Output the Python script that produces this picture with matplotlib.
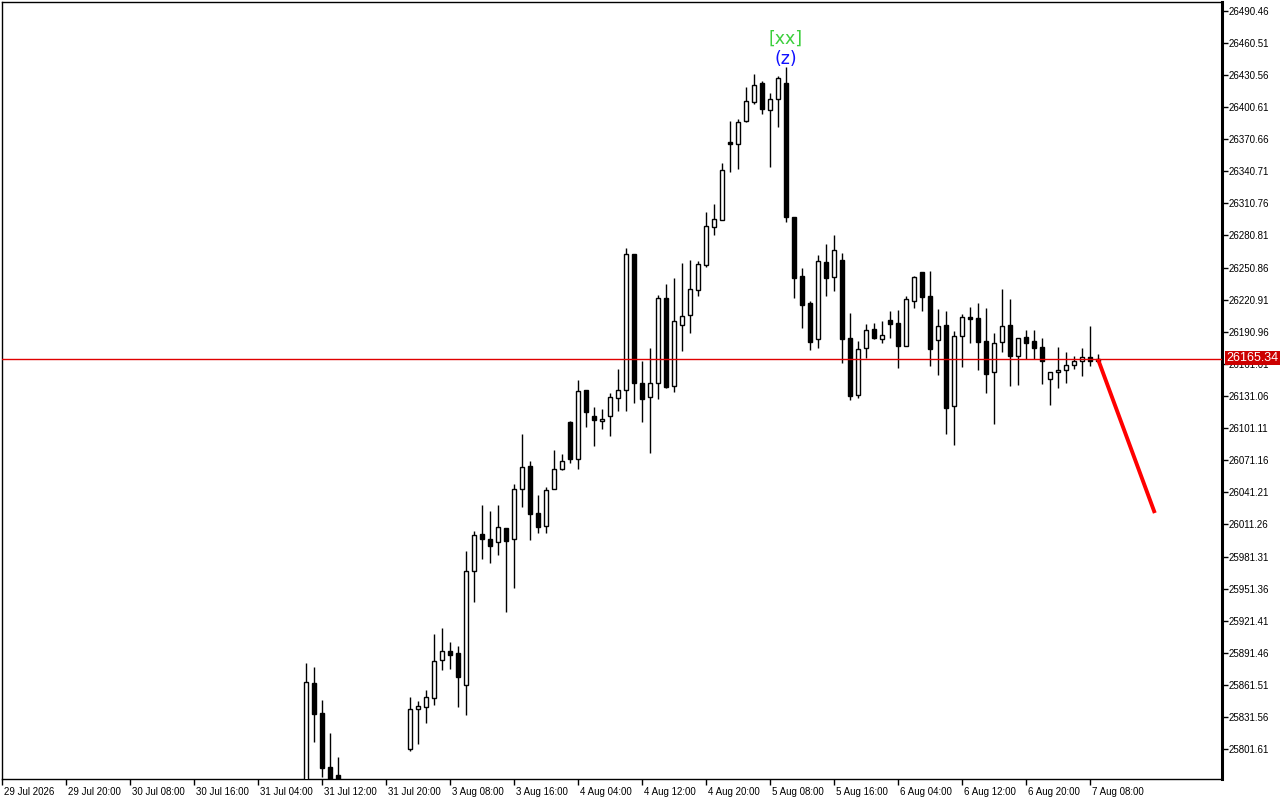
import numpy as np
import matplotlib.pyplot as plt
import matplotlib.transforms as mtrans
from matplotlib.patches import Rectangle

# ---------------------------
# H1 candles, bar index = hours since the left edge of the chart
# bars 43-50 sit below the visible price range and are left out
# ---------------------------
first_bar = 38
opens = [25760.0, 25863.4, 25835.1, 25785.0, 25777.6,
         np.nan, np.nan, np.nan, np.nan, np.nan, np.nan, np.nan, np.nan,
         25801.5, 25838.9, 25841.3, 25849.6, 25884.5, 25893.0, 25891.1, 25861.2,
         25967.6, 26002.3, 25997.4, 25994.6, 26007.6, 25997.4, 26044.0, 26065.5,
         26021.7, 26010.1, 26044.6, 26062.7, 26106.8, 26072.6, 26136.7, 26112.4,
         26107.5, 26112.1, 26128.9, 26136.4, 26263.5, 26142.9, 26129.8, 26142.9,
         26222.2, 26140.1, 26197.0, 26206.3, 26229.7, 26253.5, 26288.4, 26295.5,
         26366.8, 26365.8, 26387.3, 26405.0, 26423.0, 26397.5, 26408.4, 26423.0,
         26298.0, 26243.0, 26217.8, 26184.0, 26255.8, 26242.4, 26257.9, 26184.9,
         26132.0, 26175.6, 26193.3, 26184.5, 26201.7, 26199.2, 26178.0, 26220.0,
         26246.4, 26224.1, 26183.0, 26197.0, 26121.5, 26187.3, 26204.8, 26203.8,
         26182.4, 26153.2, 26181.1, 26197.0, 26168.7, 26185.8, 26182.1, 26176.5,
         26146.6, 26153.2, 26155.3, 26159.7, 26163.7, 26167.2, 26164.0]
highs = [25881.7, 25878.6, 25847.5, 25817.0, 25794.3,
         np.nan, np.nan, np.nan, np.nan, np.nan, np.nan, np.nan, np.nan,
         25850.6, 25846.6, 25856.8, 25909.1, 25915.0, 25901.6, 25897.9, 25986.5,
         26005.2, 26029.4, 26023.8, 26029.4, 26007.6, 26048.7, 26095.6, 26070.4,
         26038.7, 26045.9, 26080.7, 26077.0, 26107.7, 26145.9, 26137.0, 26120.8,
         26118.9, 26133.9, 26156.3, 26269.1, 26263.5, 26163.7, 26175.8, 26225.0,
         26235.5, 26240.8, 26254.8, 26257.9, 26257.3, 26302.7, 26310.1, 26348.1,
         26387.6, 26389.4, 26419.6, 26431.4, 26425.2, 26413.4, 26429.8, 26437.7,
         26298.5, 26250.2, 26220.0, 26262.6, 26272.8, 26281.2, 26264.2, 26208.2,
         26182.4, 26198.2, 26199.2, 26201.0, 26210.4, 26211.3, 26224.3, 26243.3,
         26246.4, 26247.7, 26211.9, 26210.4, 26192.0, 26207.6, 26214.1, 26217.8,
         26213.2, 26189.8, 26230.9, 26221.5, 26185.4, 26192.6, 26192.3, 26184.9,
         26153.5, 26176.5, 26171.8, 26168.1, 26175.6, 26196.4, 26170.0]
lows = [25750.0, 25808.6, 25776.0, 25760.0, 25760.0,
        np.nan, np.nan, np.nan, np.nan, np.nan, np.nan, np.nan, np.nan,
        25800.0, 25806.8, 25826.3, 25843.1, 25875.8, 25876.1, 25841.3, 25833.8,
        25939.2, 25979.0, 25975.6, 25983.0, 25929.9, 25952.2, 26027.8, 25996.7,
        26003.6, 26003.6, 26044.0, 26062.0, 26068.3, 26063.3, 26102.4, 26084.7,
        26100.6, 26094.0, 26117.4, 26117.4, 26124.8, 26107.1, 26078.2, 26128.6,
        26138.8, 26135.1, 26173.3, 26190.1, 26224.6, 26251.7, 26281.0, 26295.0,
        26340.3, 26343.1, 26387.0, 26403.1, 26393.8, 26344.4, 26382.3, 26293.6,
        26222.8, 26194.5, 26174.0, 26175.8, 26224.3, 26229.3, 26162.1, 26127.3,
        26129.5, 26166.2, 26184.5, 26180.5, 26185.2, 26157.2, 26178.0, 26212.9,
        26210.4, 26159.0, 26150.6, 26095.9, 26085.6, 26158.4, 26180.8, 26155.3,
        26134.1, 26105.2, 26172.1, 26140.7, 26141.3, 26165.6, 26165.6, 26142.6,
        26123.0, 26138.8, 26143.5, 26156.5, 26150.0, 26159.3, 26163.0]
closes = [25864.0, 25834.7, 25784.4, 25770.0, 25768.0,
          np.nan, np.nan, np.nan, np.nan, np.nan, np.nan, np.nan, np.nan,
          25839.1, 25841.6, 25850.0, 25883.6, 25893.0, 25889.8, 25869.2, 25967.8,
          26001.4, 25997.9, 25991.4, 26008.6, 25996.1, 26044.0, 26064.6, 26021.3,
          26009.2, 26043.1, 26062.7, 26070.2, 26072.6, 26135.4, 26116.4, 26109.0,
          26109.3, 26129.8, 26136.4, 26263.2, 26143.5, 26128.6, 26142.9, 26222.2,
          26139.8, 26200.7, 26205.4, 26230.6, 26254.0, 26289.4, 26295.9, 26341.6,
          26366.6, 26386.3, 26406.2, 26420.9, 26399.1, 26408.4, 26427.4, 26298.3,
          26241.4, 26216.2, 26181.7, 26257.0, 26241.4, 26267.2, 26184.0, 26131.4,
          26175.2, 26192.5, 26185.4, 26187.7, 26198.5, 26178.0, 26221.3, 26242.1,
          26223.7, 26175.2, 26196.1, 26120.1, 26186.7, 26204.5, 26203.2, 26181.7,
          26151.9, 26180.2, 26196.1, 26168.7, 26184.9, 26180.2, 26176.1, 26163.4,
          26153.2, 26155.3, 26159.7, 26163.7, 26167.4, 26163.4, 26165.34]

last_price = 26165.34
# forecast line: (bar, price) at start and end
forecast_bars = [137, 144.1]
forecast_prices = [26165.34, 26021.9]

time_labels = ["29 Jul 2026", "29 Jul 20:00", "30 Jul 08:00", "30 Jul 16:00",
               "31 Jul 04:00", "31 Jul 12:00", "31 Jul 20:00", "3 Aug 08:00",
               "3 Aug 16:00", "4 Aug 04:00", "4 Aug 12:00", "4 Aug 20:00",
               "5 Aug 08:00", "5 Aug 16:00", "6 Aug 04:00", "6 Aug 12:00",
               "6 Aug 20:00", "7 Aug 08:00"]
price_top = 26490.46
price_step = 29.95
n_price_ticks = 24

# ---------------------------
# Figure
# ---------------------------
plt.rcParams['font.family'] = ['Liberation Sans', 'DejaVu Sans']
fig = plt.figure(figsize=(12.8, 8), dpi=100)
ax = fig.add_axes([2 / 1280, 21 / 800, 1220 / 1280, 777 / 800])

ax.set_xlim(0, 152.5)
ax.set_ylim(25773.8, 26498.6)

body_w = 0.52
for k in range(len(opens)):
    o, h, l, c = opens[k], highs[k], lows[k], closes[k]
    if np.isnan(o):
        continue
    i = first_bar + k
    ax.plot([i, i], [l, h], color='black', lw=1.0, zorder=2, solid_capstyle='butt')
    bottom = min(o, c)
    height = max(abs(c - o), 1.2)
    face = 'white' if c >= o else 'black'
    ax.add_patch(Rectangle((i - body_w / 2, bottom), body_w, height,
                           facecolor=face, edgecolor='black', lw=1.0, zorder=3))

ax.axhline(last_price, color='#e00000', lw=1.0, zorder=4)
ax.plot(forecast_bars, forecast_prices, color='#ff0000', lw=2.8, zorder=5,
        solid_capstyle='butt')

# wave labels above the top candle
ax.text(98, 26464.5, "[xx]", color='#3ccf3c', fontsize=12.5, ha='center', va='center',
        family=['DejaVu Sans'])
ax.text(98, 26445.5, "(z)", color='#1010ff', fontsize=12.5, ha='center', va='center',
        family=['DejaVu Sans'])

# axes styling
for side in ['left', 'top', 'bottom']:
    ax.spines[side].set_linewidth(1.0)
ax.spines['right'].set_linewidth(2.2)

ax.yaxis.tick_right()
yt = [price_top - price_step * j for j in range(n_price_ticks)]
ax.set_yticks(yt)
ax.set_yticklabels([f"{v:.2f}" for v in yt])
ax.tick_params(axis='y', direction='out', length=4, width=1, pad=1.0,
               labelsize=7, colors='black')

ax.set_xticks(range(0, 8 * len(time_labels), 8))
ax.set_xticklabels(time_labels, ha='left')
ax.tick_params(axis='x', direction='out', length=4, width=1, pad=1.5,
               labelsize=7, colors='black')
offset = mtrans.ScaledTranslation(2 / 100, 0, fig.dpi_scale_trans)
for lab in ax.get_xticklabels():
    lab.set_transform(lab.get_transform() + offset)

# current price tag on the price scale
ax.annotate(f"{last_price:.2f}", xy=(1.0, last_price), xycoords=('axes fraction', 'data'),
            xytext=(3.2, 1), textcoords='offset points', ha='left', va='center',
            fontsize=9, color='white', zorder=10, annotation_clip=False,
            bbox=dict(boxstyle='square,pad=0.1', facecolor='#cc0000', edgecolor='none'))

fig.savefig("out.png", dpi=100, facecolor='white')
